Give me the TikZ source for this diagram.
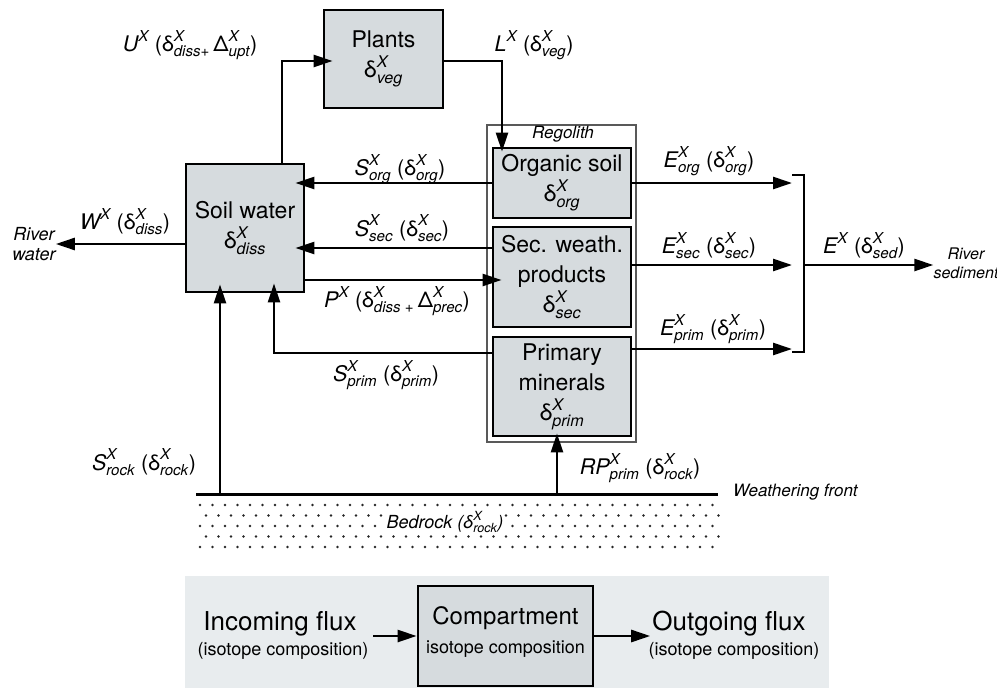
\documentclass[tikz,border=0pt]{standalone}
\usepackage{fontspec}
\setmainfont{TeX Gyre Heros}
\usepackage{amsmath}
\usetikzlibrary{arrows.meta}
\definecolor{boxgray}{RGB}{214,219,222}
\definecolor{leggray}{RGB}{232,236,238}
\newcommand{\dlt}[1]{$\text{δ}^{\text{\itshape X}}_{\text{\itshape #1}}$}
\newcommand{\Dlt}[1]{$\text{Δ}^{\text{\itshape X}}_{\text{\itshape #1}}$}
\newcommand{\flx}[2]{$\text{\itshape #1}^{\text{\itshape X}}_{\text{\itshape #2}}$}
\newcommand{\flxn}[1]{$\text{\itshape #1}^{\text{\itshape X}}$}
\begin{document}
\begin{tikzpicture}[x=1pt,y=-1pt,
  arr/.style={line width=2.6pt,-{Triangle[length=19pt,width=12pt]}},
  ln/.style={line width=2.6pt},
  cbox/.style={draw,line width=2.8pt,fill=boxgray,align=center,inner sep=0pt,font=\fontsize{23}{30}\selectfont},
  flab/.style={font=\fontsize{21.5}{24}\selectfont,inner sep=0pt},
  ilab/.style={font=\fontsize{16}{19}\selectfont\itshape,align=center,inner sep=0pt}]
\useasboundingbox (0,0) rectangle (997,688);
% legend background
\fill[leggray] (185,576) rectangle (829,688);
% bedrock dots
\foreach \r in {0,...,4}{\foreach \c in {0,...,41}{%
  \pgfmathsetmacro\xx{200+12.5*\c+6*mod(\r,2)}\pgfmathsetmacro\yy{505+10.5*\r}%
  \fill[black!85] (\xx,\yy) circle[radius=1.4pt];}}
\node[font=\fontsize{18}{20}\selectfont\itshape,fill=white,inner sep=1pt] (bed) at (445,522) {Bedrock (\dlt{rock})};
% boxes
\node[draw,line width=1.2pt,black!65,minimum width=149pt,minimum height=317pt] (rego) at (561.5,283.5) {};
\node[ilab,font=\fontsize{17}{19}\selectfont\itshape] (regl) at (563,134) {Regolith};
\node[cbox,minimum width=118pt,minimum height=128pt] (sw) at (245,228) {Soil water\\\dlt{diss}};
\node[cbox,minimum width=119pt,minimum height=98pt] (pl) at (383.5,59) {Plants\\\dlt{veg}};
\node[cbox,minimum width=138pt,minimum height=70pt] (org) at (562,183) {Organic soil\\\dlt{org}};
\node[cbox,minimum width=138pt,minimum height=100pt] (sec) at (562,277) {Sec. weath.\\products\\\dlt{sec}};
\node[cbox,minimum width=138pt,minimum height=99pt] (prim) at (562,386.5) {Primary\\minerals\\\dlt{prim}};
% helper coordinates
\coordinate (uB) at (282,61);
\coordinate (lB) at (502,61);
\coordinate (ysec) at (400,248);
\coordinate (yP) at (400,280);
\coordinate (spB) at (274,353);
\coordinate (wfL) at (196,494);
\coordinate (wfR) at (718,494);
\coordinate (wfA) at (220,494);
\coordinate (wfB) at (557,494);
\coordinate (yW) at (0,244);
\coordinate (tipx) at (792,0);
\coordinate (bT) at (804,175);
\coordinate (bB) at (804,352);
\coordinate (bM) at (804,265);
\coordinate (yEp) at (0,349);
% connectors
\draw[arr,shorten >=-10pt] (sw.north -| uB) -- (uB) -- (pl.west |- uB);
\draw[arr,shorten >=-5pt] (pl.east |- lB) -- (lB) -- (org.north -| lB);
\draw[arr,shorten >=-10pt] (org.west) -- (org.west -| sw.east);
\draw[arr,shorten >=-10pt] (sec.west |- ysec) -- (sw.east |- ysec);
\draw[arr,shorten >=-10pt] (sw.east |- yP) -- (sec.west |- yP);
\draw[arr,shorten >=-10pt] (prim.west |- spB) -- (spB) -- (sw.south -| spB);
\draw[line width=3pt] (wfL) -- (wfR);
\draw[arr,shorten >=-9pt] (wfA) -- (sw.south -| wfA);
\draw[arr,shorten >=-4pt] (wfB) -- (prim.south -| wfB);
\node[ilab,font=\fontsize{18}{20}\selectfont\itshape] (rw) at (34,244) {River\\water};
\draw[arr] (sw.west |- yW) -- (rw.east |- yW);
\draw[arr] (org.east) -- (org.east -| tipx);
\draw[arr] (sec.east |- bM) -- (tipx |- bM);
\draw[arr] (prim.east |- yEp) -- (tipx |- yEp);
\draw[ln] ([xshift=-12pt]bT) -- (bT) -- (bB) -- ([xshift=-12pt]bB);
\node[ilab] (rs) at (966,263) {River\\sediment};
\draw[arr] (bM) -- (rs.west |- bM);
% flux labels
\node[flab] (lU) at (190,45) {\flxn{U} (\dlt{diss+}\,\Dlt{upt})};
\node[flab] (lL) at (534,45) {\flxn{L} (\dlt{veg})};
\node[flab] (lSo) at (400,169) {\flx{S}{org} (\dlt{org})};
\node[flab] (lSs) at (402,228) {\flx{S}{sec} (\dlt{sec})};
\node[flab] (lP) at (397,301) {\flxn{P} (\dlt{diss +}\,\Dlt{prec})};
\node[flab] (lSp) at (386,375) {\flx{S}{prim} (\dlt{prim})};
\node[flab] (lW) at (125,222) {\flxn{W} (\dlt{diss})};
\node[flab] (lEo) at (709,161) {\flx{E}{org} (\dlt{org})};
\node[flab] (lEs) at (709,246) {\flx{E}{sec} (\dlt{sec})};
\node[flab] (lEp) at (713,329) {\flx{E}{prim} (\dlt{prim})};
\node[flab] (lE) at (864,246) {\flxn{E} (\dlt{sed})};
\node[flab] (lSr) at (144,462) {\flx{S}{rock} (\dlt{rock})};
\node[flab] (lRP) at (640,468) {\flx{RP}{prim} (\dlt{rock})};
\node[ilab,font=\fontsize{17}{19}\selectfont\itshape,anchor=west] (wf) at (733,492) {Weathering front};
% legend
\node[cbox,minimum width=175pt,minimum height=100pt] (comp) at (505.5,636) {};
\node[font=\fontsize{24}{26}\selectfont,inner sep=0pt] (compt) at (505.5,618) {Compartment};
\node[font=\fontsize{18}{20}\selectfont,inner sep=0pt] (comps) at (505.5,649) {isotope composition};
\node[font=\fontsize{26}{28}\selectfont,inner sep=0pt] (inc) at (280,624) {Incoming flux};
\node[font=\fontsize{18}{20}\selectfont,inner sep=0pt] (incs) at (283,651) {(isotope composition)};
\node[font=\fontsize{26}{28}\selectfont,inner sep=0pt] (outg) at (729,624) {Outgoing flux};
\node[font=\fontsize{18}{20}\selectfont,inner sep=0pt] (outs) at (734,651) {(isotope composition)};
\coordinate (inA) at (373,636);
\draw[arr] (inA) -- (comp.west);
\draw[arr] (comp.east) -- ([xshift=-2pt]outg.west |- comp.east);
\end{tikzpicture}
\end{document}
